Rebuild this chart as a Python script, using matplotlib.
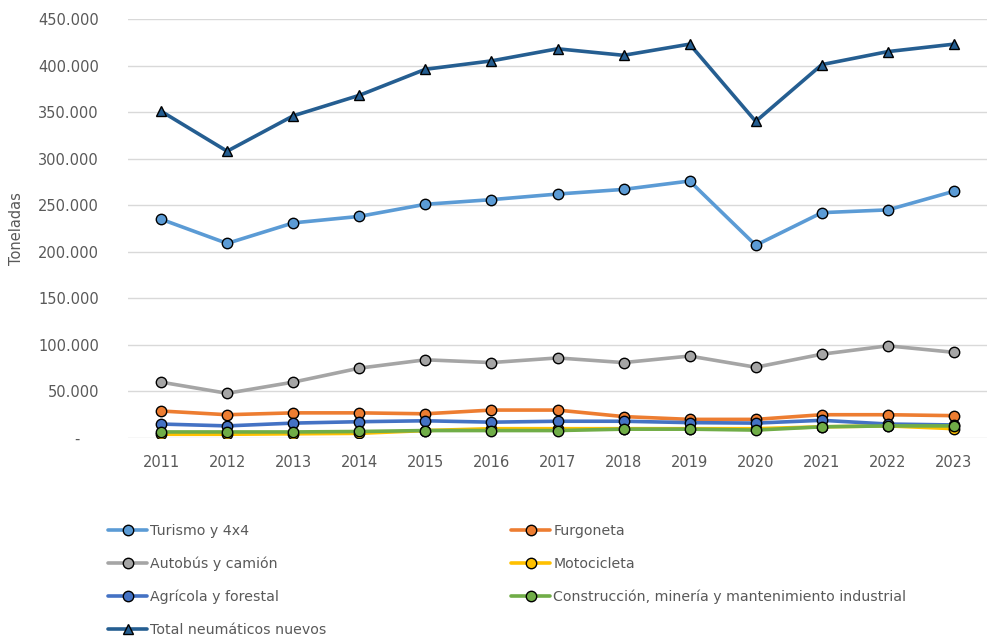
import matplotlib.pyplot as plt
from matplotlib.ticker import FuncFormatter

years = ['2011', '2012', '2013', '2014', '2015', '2016', '2017',
         '2018', '2019', '2020', '2021', '2022', '2023']

turismo = [235000, 209000, 231000, 238000, 251000, 256000, 262000,
           267000, 276000, 207000, 242000, 245000, 265000]
furgoneta = [29000, 25000, 27000, 27000, 26000, 30000, 30000,
             23000, 20000, 20000, 25000, 25000, 24000]
autobus = [60000, 48000, 60000, 75000, 84000, 81000, 86000,
           81000, 88000, 76000, 90000, 99000, 92000]
moto = [4000, 4000, 4500, 5000, 8000, 10000, 10000,
        10000, 10000, 10000, 12000, 13000, 10000]
agricola = [15000, 13000, 16000, 17500, 18500, 17000, 18000,
            18000, 16500, 16000, 19000, 15000, 14000]
construccion = [6500, 6500, 6500, 7000, 8000, 8000, 8000,
                9500, 9500, 8500, 12000, 13000, 13000]
total = [351000, 308000, 346000, 368000, 396000, 405000, 418000,
         411000, 423000, 340000, 401000, 415000, 423000]

series = [
    ('Turismo y 4x4', turismo, '#5B9BD5', 'o'),
    ('Furgoneta', furgoneta, '#ED7D31', 'o'),
    ('Autobús y camión', autobus, '#A5A5A5', 'o'),
    ('Motocicleta', moto, '#FFC000', 'o'),
    ('Agrícola y forestal', agricola, '#4472C4', 'o'),
    ('Construcción, minería y mantenimiento industrial', construccion, '#70AD47', 'o'),
    ('Total neumáticos nuevos', total, '#255E91', '^'),
]

txt = '#595959'
fig = plt.figure(figsize=(9.96, 6.37), dpi=100)
ax = fig.add_axes([128 / 996, 1 - 438 / 637, (987 - 128) / 996, (438 - 19) / 637])

x = range(len(years))
lines = {}
for name, vals, col, mk in series:
    ln, = ax.plot(x, vals, color=col, lw=2.6, marker=mk, ms=7.5 if mk == 'o' else 7,
                  mfc=col, mec='black', mew=1.0, label=name, solid_capstyle='round')
    lines[name] = ln

ax.set_xlim(-0.5, len(years) - 0.5)
ax.set_ylim(0, 450000)
ax.set_yticks(range(0, 450001, 50000))
ax.yaxis.set_major_formatter(FuncFormatter(
    lambda v, p: '-    ' if v == 0 else f'{int(v):,}'.replace(',', '.')))
ax.set_xticks(list(x))
ax.set_xticklabels(years)
ax.grid(axis='y', color='#D9D9D9', lw=1)
ax.set_axisbelow(True)
for s in ax.spines.values():
    s.set_visible(False)
ax.tick_params(length=0, colors=txt, labelsize=10.5)
ax.tick_params(axis='y', pad=21)
ax.tick_params(axis='x', pad=12)
ax.set_ylabel('Toneladas', color=txt, fontsize=10.5, labelpad=10)

order = ['Turismo y 4x4', 'Autobús y camión', 'Agrícola y forestal', 'Total neumáticos nuevos',
         'Furgoneta', 'Motocicleta', 'Construcción, minería y mantenimiento industrial']
leg = fig.legend([lines[n] for n in order], order, ncol=2, loc='upper left',
                 bbox_to_anchor=(102 / 996, 1 - 518 / 637), frameon=False,
                 fontsize=10.2, labelcolor=txt, handlelength=2.8, handletextpad=0.2,
                 labelspacing=1.33, columnspacing=13.0, borderaxespad=0)

fig.savefig('out.png', dpi=100)
